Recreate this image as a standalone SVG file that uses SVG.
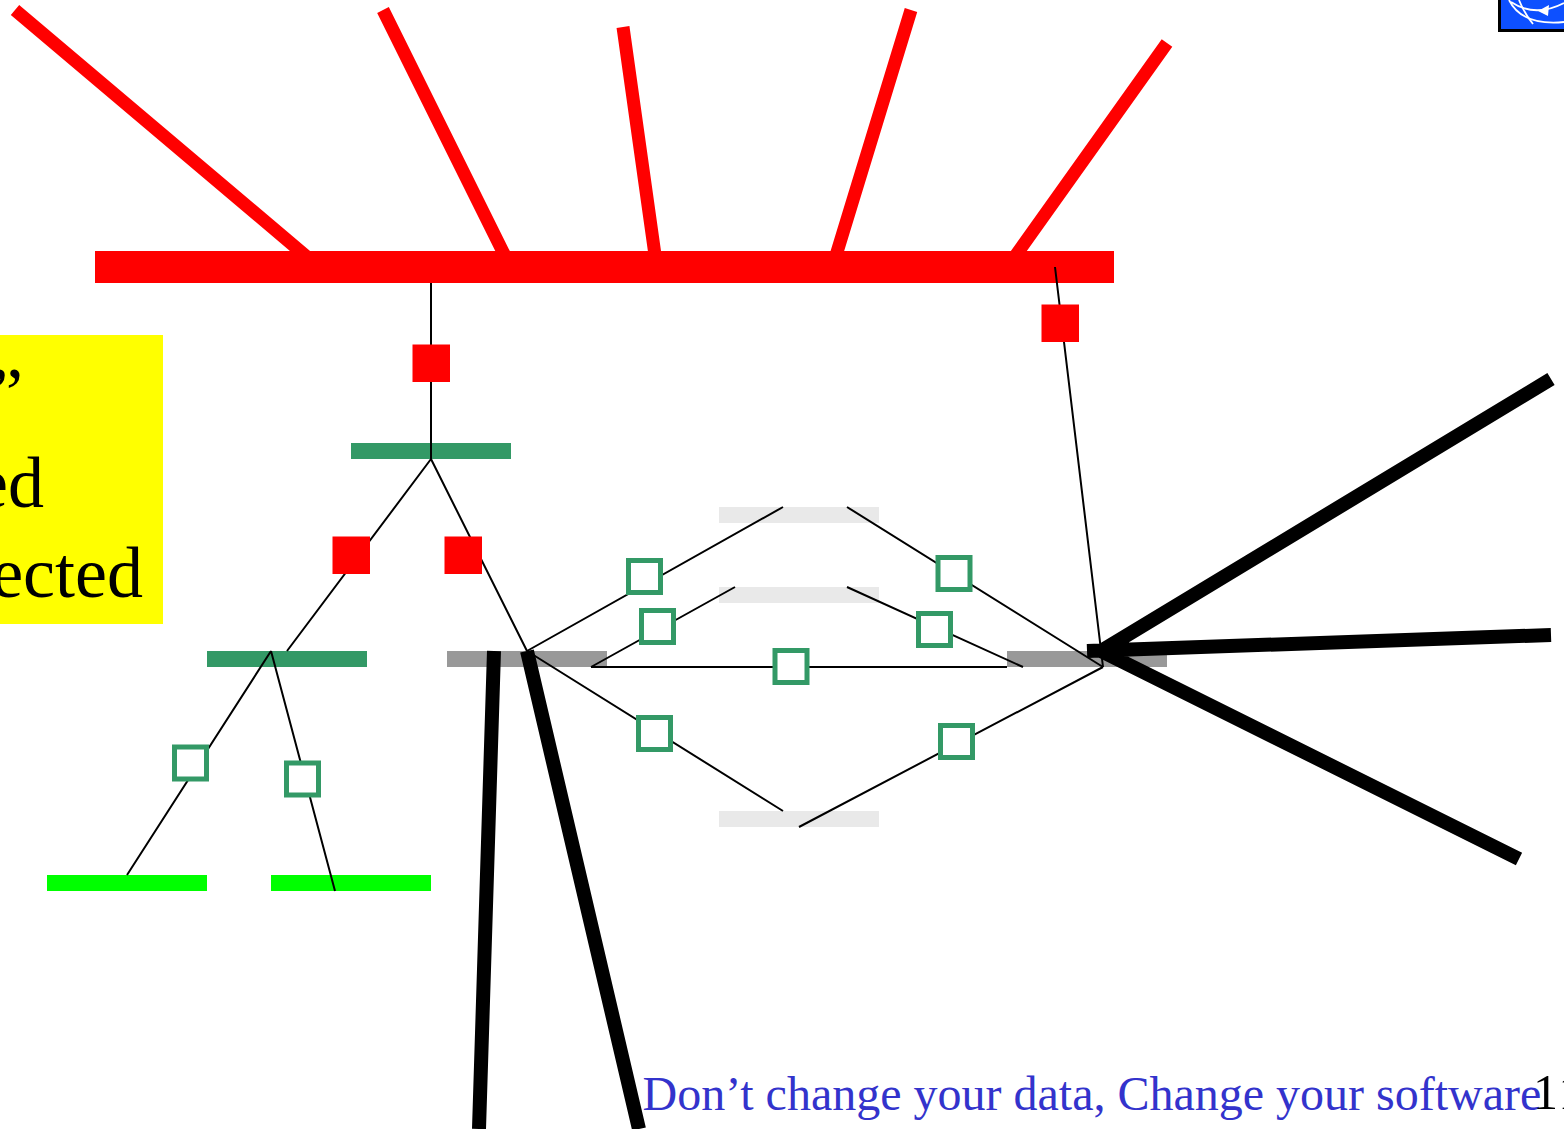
<svg xmlns="http://www.w3.org/2000/svg" width="1564" height="1129" viewBox="0 0 1564 1129">
<style>
.t{font-family:"Liberation Serif","Times New Roman",serif}
.big{font-size:72px;fill:#000;text-anchor:end}
.r{stroke:#f00;stroke-width:13;fill:none}
.k{stroke:#000;stroke-width:14;fill:none}
.n{stroke:#000;stroke-width:2;fill:none}
.sr{fill:#f00}
.sg{fill:#fff;stroke:#339966;stroke-width:5}
.dg{fill:#339966}.gr{fill:#999}.lg{fill:#e9e9e9}.g{fill:#0f0}
</style>
<g id="note"><rect x="0" y="335" width="163" height="289" fill="#ff0"/>
<text class="t big" x="23" y="417">”</text>
<text class="t big" x="44" y="507">ed</text>
<text class="t big" x="143" y="597">ected</text></g>
<g id="logo"><rect x="1499.5" y="-4" width="70" height="34.5" fill="#0d50ff" stroke="#000" stroke-width="3"/>
<g fill="none" stroke="#fff" stroke-width="1.8"><path d="M1509 0Q1522 26 1564 22"/><path d="M1519 0Q1524 13 1533 24"/><path d="M1511 2Q1535 18 1564 3"/></g><path d="M1538 11L1549 5L1548 16Z" fill="#fff"/></g>
<g id="bars">
<rect id="bar-main" x="95" y="251" width="1019" height="32" class="sr"/>
<rect id="bar-g1" x="351" y="443" width="160" height="16" class="dg"/>
<rect id="bar-g2" x="207" y="651" width="160" height="16" class="dg"/>
<rect id="bar-gr1" x="447" y="651" width="160" height="16" class="gr"/>
<rect id="bar-gr2" x="1007" y="651" width="160" height="16" class="gr"/>
<rect id="bar-l1" x="719" y="507" width="160" height="16" class="lg"/>
<rect id="bar-l2" x="719" y="587" width="160" height="16" class="lg"/>
<rect id="bar-l3" x="719" y="811" width="160" height="16" class="lg"/>
<rect id="bar-b1" x="47" y="875" width="160" height="16" class="g"/>
<rect id="bar-b2" x="271" y="875" width="160" height="16" class="g"/>
</g>
<g id="connectors">
<path class="r" d="M15 10L313 262M383 10L508 262M623 27L656 262M911 10L834 262M1167 43L1011 262"/>
<path class="n" d="M431 283V459M431 459L287 651M431 459L527 651M1055 267L1103 667M271 651L127 875M271 651L335 891"/>
<path class="n" d="M527 651L783 507M527 651L783 811M591 667L735 587M591 667H1007M847 507L1103 667M847 587L1023 667M799 827L1103 667"/>
<path class="k" d="M1551 379L1101 651M1551 635L1087 651M1519 859L1101 651M494 651L479 1129M527 651L639 1129"/>
</g>
<g id="markers">
<rect x="412.5" y="344.5" width="37.5" height="37.5" class="sr"/>
<rect x="1041.5" y="304.5" width="37.5" height="37.5" class="sr"/>
<rect x="332.5" y="536.5" width="37.5" height="37.5" class="sr"/>
<rect x="444.5" y="536.5" width="37.5" height="37.5" class="sr"/>
<rect x="174.5" y="747" width="32" height="32" class="sg"/>
<rect x="286.5" y="763" width="32" height="32" class="sg"/>
<rect x="628.5" y="560.5" width="32" height="32" class="sg"/>
<rect x="641.5" y="610.5" width="32" height="32" class="sg"/>
<rect x="638.5" y="717.5" width="32" height="32" class="sg"/>
<rect x="775" y="650.5" width="32" height="32" class="sg"/>
<rect x="938" y="557.5" width="32" height="32" class="sg"/>
<rect x="918.5" y="613.5" width="32" height="32" class="sg"/>
<rect x="940.5" y="725.5" width="32" height="32" class="sg"/>
</g>
<g id="footer">
<text class="t" x="642.5" y="1110" font-size="48" fill="#3333cc">Don’t change your data, Change your software</text>
<text class="t" x="1533" y="1109" font-size="50" letter-spacing="2" fill="#000">11</text>
</g>
</svg>
